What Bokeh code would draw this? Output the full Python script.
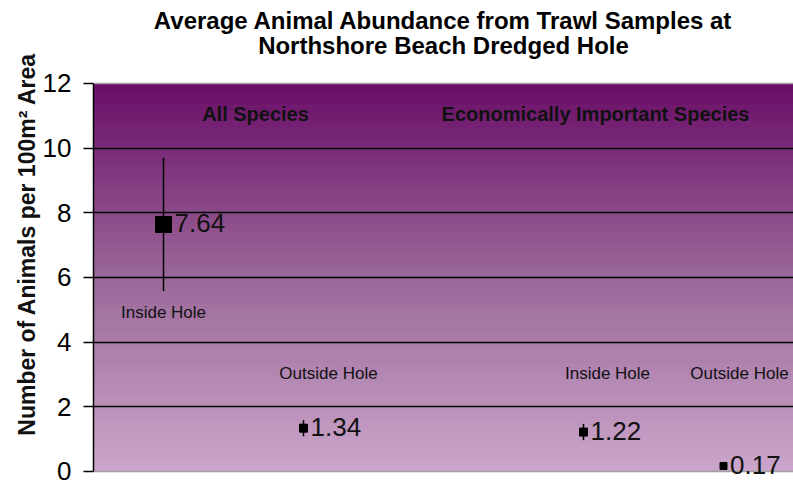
from bokeh.plotting import figure
from bokeh.models import (FactorRange, ColumnDataSource, LabelSet, Span,
                          BoxAnnotation, FixedTicker)
from bokeh.core.properties import value
from bokeh.embed import file_html
from bokeh.resources import INLINE

# ---------------- data ----------------
title_lines = ["Average Animal Abundance from Trawl Samples at",
               "Northshore Beach Dredged Hole"]
y_title = "Number of Animals per 100m\u00b2 Area"
groups = ["All Species", "All Species",
          "Economically Important Species", "Economically Important Species"]
locations = ["Inside Hole", "Outside Hole", "Inside Hole", "Outside Hole"]
means = [7.64, 1.34, 1.22, 0.17]
errors = [2.06, 0.25, 0.25, 0.03]
value_labels = ["7.64", "1.34", "1.22", "0.17"]
group_names = ["All Species", "Economically Important Species"]
y_ticks = [0, 2, 4, 6, 8, 10, 12]
y_min, y_max = 0, 12

# ---------------- styles ----------------
marker_sizes = [16, 8, 8, 7]
cat_label_y = [4.92, 3.03, 3.03, 3.03]
cat_label_xoff = [0, 25, 24, 16]
group_label_xoff = [22, -58]
group_label_y = 11.07
title_space = 2.567           # room above the axis (in axis units) for the title
bottom_space = 0.495          # room below the axis for the lowest value label
title_y = [13.948, 13.175]    # title line positions (above the plot area)
title_xoff = 210              # from the first group's centre to the area centre
FONT = "Liberation Sans"

x = list(zip(groups, locations))
src = ColumnDataSource(dict(
    x=x, y=means,
    lo=[m - e for m, e in zip(means, errors)],
    hi=[m + e for m, e in zip(means, errors)],
    text=value_labels,
    msize=marker_sizes,
    vx=[s / 2 + 3 for s in marker_sizes],
    cat=locations, cy=cat_label_y, cx=cat_label_xoff,
))

p = figure(x_range=FactorRange(factors=x, group_padding=1.0, range_padding=0.0),
           y_range=(y_min - bottom_space, y_max + title_space),
           width=793, height=487,
           output_backend="svg", toolbar_location=None, title=None,
           min_border_left=93, min_border_right=0, min_border_top=0,
           min_border_bottom=0)

# gradient background (only the plot area 0..12)
top_c = (106, 14, 104)
mid_c = (155, 104, 153)
bot_c = (203, 166, 203)
N = 120
for i in range(N):
    t = (i + 0.5) / N  # 0 bottom -> 1 top
    if t < 0.5:
        a, b, f = bot_c, mid_c, t / 0.5
    else:
        a, b, f = mid_c, top_c, (t - 0.5) / 0.5
    c = tuple(int(round(a[k] + (b[k] - a[k]) * f)) for k in range(3))
    col = "#%02x%02x%02x" % c
    lo_b = y_min + (y_max - y_min) * i / N
    hi_b = y_min + (y_max - y_min) * (i + 1) / N
    p.add_layout(BoxAnnotation(bottom=lo_b, top=hi_b,
                               fill_color=col, fill_alpha=1.0,
                               line_color=col, line_alpha=1.0, line_width=1,
                               level="image"))

p.background_fill_color = "white"
p.outline_line_color = None
for edge in (y_min, y_max):
    p.add_layout(Span(location=edge, dimension="width", line_color="#a0a0a0",
                      line_width=1.5, level="underlay"))

# grid
p.xgrid.visible = False
p.ygrid.ticker = FixedTicker(ticks=[t for t in y_ticks if y_min < t < y_max])
p.ygrid.grid_line_color = "black"
p.ygrid.grid_line_width = 1.5

# axes
p.xaxis.visible = False
p.yaxis.bounds = (y_min, y_max)
p.yaxis.ticker = FixedTicker(ticks=y_ticks)
p.yaxis.minor_tick_line_color = None
p.yaxis.major_tick_out = 10
p.yaxis.major_tick_in = 0
p.yaxis.major_tick_line_width = 1.5
p.yaxis.axis_line_width = 1.5
p.yaxis.axis_line_color = "black"
p.yaxis.major_tick_line_color = "black"
p.yaxis.major_label_text_font = FONT
p.yaxis.major_label_text_font_size = "26px"
p.yaxis.major_label_text_color = "black"
p.yaxis.major_label_standoff = 12
p.yaxis.axis_label = y_title
p.yaxis.axis_label_text_font = FONT
p.yaxis.axis_label_text_font_size = "23px"
p.yaxis.axis_label_text_font_style = "bold"
p.yaxis.axis_label_text_color = "#111111"
p.yaxis.axis_label_standoff = 0

# title (two centred lines above the plot area)
tsrc = ColumnDataSource(dict(x=[group_names[0]] * 2, y=title_y,
                             text=title_lines))
p.add_layout(LabelSet(x="x", y="y", text="text", source=tsrc,
                      x_offset=title_xoff, text_align="center",
                      text_baseline="middle", text_font=value(FONT),
                      text_font_size="24px", text_font_style="bold",
                      text_color="black"))

# error bars and markers
p.segment(x0="x", y0="lo", x1="x", y1="hi", source=src,
          line_color="black", line_width=1.5)
p.scatter(x="x", y="y", source=src, marker="square", size="msize",
          fill_color="black", line_color="black")

# value labels
p.add_layout(LabelSet(x="x", y="y", text="text", source=src, x_offset="vx",
                      y_offset=1, text_baseline="middle", text_align="left",
                      text_font=value(FONT), text_font_size="26px",
                      text_color="#111111"))

# category labels
p.add_layout(LabelSet(x="x", y="cy", text="cat", source=src, x_offset="cx",
                      text_baseline="middle", text_align="center",
                      text_font=value(FONT), text_font_size="17px",
                      text_color="#111111"))

# group labels
gsrc = ColumnDataSource(dict(x=group_names, y=[group_label_y] * 2,
                             text=group_names, xo=group_label_xoff))
p.add_layout(LabelSet(x="x", y="y", text="text", source=gsrc, x_offset="xo",
                      text_baseline="middle", text_align="center",
                      text_font=value(FONT), text_font_size="20px",
                      text_font_style="bold", text_color="#111111"))

open("out.html", "w").write(file_html(p, INLINE))
